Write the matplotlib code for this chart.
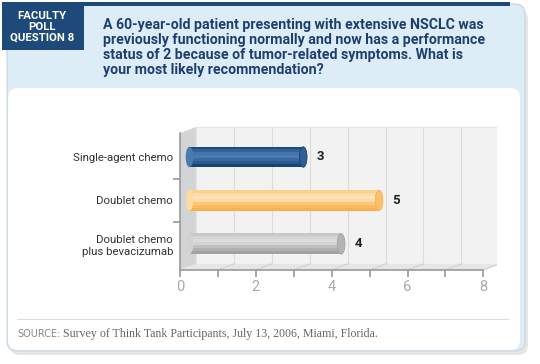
import numpy as np
import matplotlib
matplotlib.use("Agg")
import matplotlib.pyplot as plt
from matplotlib.patches import FancyBboxPatch, Rectangle, Polygon, Ellipse

categories = ["Single-agent chemo", "Doublet chemo", "Doublet chemo\nplus bevacizumab"]
values = [3, 5, 4]
bar_colors = [
    ["#1f4c7d", "#33629a", "#4673a8", "#4d7aae", "#3a68a0", "#2a5a8e", "#1b4370"],
    ["#fcd08a", "#fddcaa", "#fee3bc", "#fdd9a4", "#fcc878", "#fbba60", "#f9b050"],
    ["#c8c8c8", "#d4d4d4", "#dcdcdc", "#d2d2d2", "#c0c0c0", "#b0b0b0", "#a2a2a2"],
]
cap_colors = ["#2f5f95", "#fbc06c", "#b4b4b4"]
xticks = [0, 1, 2, 3, 4, 5, 6, 7, 8]
xticklabels = ["0", "", "2", "", "4", "", "6", "", "8"]

question = ("A 60-year-old patient presenting with extensive NSCLC was\n"
            "previously functioning normally and now has a performance\n"
            "status of 2 because of tumor-related symptoms. What is\n"
            "your most likely recommendation?")
source_text = "Survey of Think Tank Participants, July 13, 2006, Miami, Florida."

sans = ["Roboto", "DejaVu Sans"]

fig = plt.figure(figsize=(5.4, 3.64), dpi=100)
fig.patch.set_facecolor("white")

# background panels in pixel coordinates
bg = fig.add_axes([0, 0, 1, 1])
bg.set_xlim(0, 540)
bg.set_ylim(364, 0)
bg.axis("off")

# soft shadow
bg.add_patch(FancyBboxPatch((10, 10), 518, 345, boxstyle="round,pad=0,rounding_size=10",
                            facecolor="#e6e6e6", edgecolor="none", zorder=0))
# light blue panel
bg.add_patch(FancyBboxPatch((7, 4), 518, 347, boxstyle="round,pad=0,rounding_size=10",
                            facecolor="#dcedf8", edgecolor="#c8d4dc", linewidth=0.8, zorder=1))
# dark top line
bg.add_patch(Rectangle((2, 2), 508, 4, facecolor="#1d4a78", edgecolor="none", zorder=2))
# navy box
bg.add_patch(Rectangle((2, 2), 82, 48, facecolor="#1d4a78", edgecolor="none", zorder=2))
# white card
bg.add_patch(FancyBboxPatch((8, 88), 512, 262, boxstyle="round,pad=0,rounding_size=10",
                            facecolor="white", edgecolor="none", zorder=2))
bg.plot([17, 508], [319, 319], color="#dddddd", lw=0.8, zorder=3)

bg.text(42, 27, "FACULTY\nPOLL\nQUESTION 8", color="white", fontsize=8.2, fontweight="bold",
        family=sans, ha="center", va="center", linespacing=1.12, zorder=4)
bg.text(103, 47.5, question, color="#1e3f6e", fontsize=10.2, fontweight="bold",
        family=sans, ha="left", va="center", linespacing=1.1, zorder=4)
bg.text(17, 334, "SOURCE:", color="#888888", fontsize=7, family=["DejaVu Sans"],
        ha="left", va="center", zorder=4)
bg.text(63, 334, source_text, color="#666666", fontsize=8.6, family=["Liberation Serif"],
        ha="left", va="center", zorder=4)

# chart axes
ax = fig.add_axes([180 / 540, 1 - 270 / 364, 317 / 540, 143 / 364])
ax.set_facecolor("none")
floor_y, top_y = 2.6, -0.69
dx, dy = 0.42, 0.14
ax.set_xlim(0, 8.36)
ax.set_ylim(floor_y, top_y)

# walls
ax.add_patch(Rectangle((dx, top_y), 8, floor_y - dy - top_y, facecolor="#f2f2f2",
                       edgecolor="#e4e4e4", lw=0.8, zorder=0))
ax.add_patch(Polygon([(0, floor_y), (dx, floor_y - dy), (dx, top_y), (0, top_y + dy)],
                     facecolor="#d3d4d6", edgecolor="none", zorder=0))
ax.add_patch(Polygon([(0, floor_y), (8, floor_y), (8 + dx, floor_y - dy), (dx, floor_y - dy)],
                     facecolor="#e6e6e6", edgecolor="none", zorder=0))
for k in xticks[1:]:
    ax.plot([k + dx, k + dx], [floor_y - dy, top_y], color="#dcdcdc", lw=0.8, zorder=1)
    ax.plot([k, k + dx], [floor_y, floor_y - dy], color="#d0d0d0", lw=0.8, zorder=1)

# cylinder bars
y = np.arange(len(categories))
h = 0.47
start = 0.25
for i, v in enumerate(values):
    cols = bar_colors[i]
    n = len(cols)
    for j, c in enumerate(cols):
        ax.barh(y[i] - h / 2 + (j + 0.5) * h / n, v, height=h / n + 0.01, left=start,
                color=c, edgecolor="none", zorder=3)
    ax.add_patch(Ellipse((start, y[i]), 0.2, h, facecolor=cols[n // 2], edgecolor="none", zorder=3))
    ax.add_patch(Ellipse((start + v, y[i]), 0.2, h, facecolor=cap_colors[i],
                         edgecolor=cols[-1], lw=0.6, zorder=4))
    ax.text(start + v + 0.36, y[i], str(v), fontsize=9.5, fontweight="bold",
            color="#222222", family=sans, ha="left", va="center", zorder=5)

for side in ["top", "right"]:
    ax.spines[side].set_visible(False)
ax.spines["left"].set_color("#9a9a9a")
ax.spines["bottom"].set_color("#9a9a9a")
ax.spines["left"].set_linewidth(1.2)
ax.spines["bottom"].set_linewidth(1.2)
ax.spines["left"].set_bounds(top_y + dy, floor_y)
ax.spines["bottom"].set_bounds(0, 8)

ax.set_xticks(xticks)
ax.set_xticklabels(xticklabels, color="#aaaaaa", fontsize=10.5, family=sans)
ax.tick_params(axis="x", length=5, width=1.2, color="#9a9a9a", pad=2)
ax.set_yticks(y)
ax.set_yticklabels(categories, fontsize=8.2, color="#333333", family=sans)
ax.tick_params(axis="y", length=0, pad=5)
ax.set_yticks([0.5, 1.5], minor=True)
ax.tick_params(axis="y", which="minor", length=5, width=1.2, color="#9a9a9a")

fig.savefig("out.png", dpi=100)
